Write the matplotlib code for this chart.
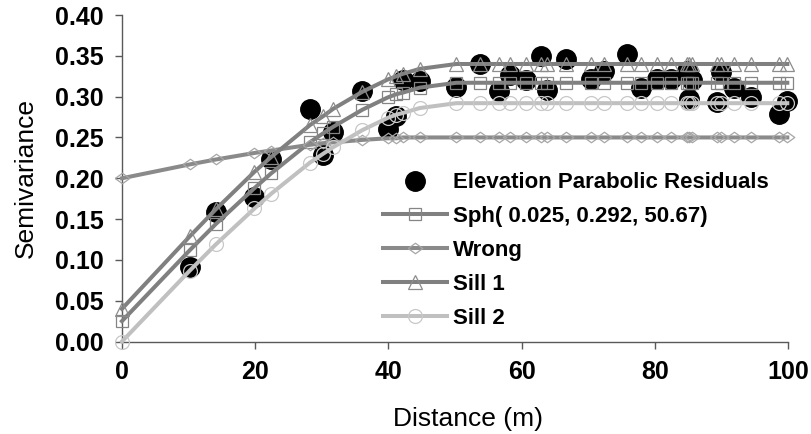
import matplotlib
matplotlib.use("Agg")
from matplotlib import pyplot as plt, ticker

# experimental semivariance (black dots)
dist = [10.2, 14.1, 19.9, 22.4, 28.2, 30.2, 31.7, 36.1, 39.9, 41.2, 42.2, 44.7,
        50.2, 53.7, 56.6, 58.2, 60.6, 62.9, 63.8, 66.7, 70.4, 72.4, 75.9, 77.9,
        80.3, 82.4, 84.9, 85.2, 85.6, 89.4, 89.9, 91.9, 94.4, 98.7, 99.9]
semivar = [0.091, 0.159, 0.177, 0.223, 0.285, 0.229, 0.257, 0.307, 0.260, 0.276, 0.320, 0.319,
           0.312, 0.340, 0.307, 0.326, 0.320, 0.350, 0.308, 0.346, 0.322, 0.332, 0.352, 0.310,
           0.322, 0.322, 0.332, 0.297, 0.320, 0.293, 0.330, 0.310, 0.299, 0.279, 0.295]

# model curves, read at the lag distances (plus the origin)
model_dist = [0.0] + dist
sph = [0.025, 0.112, 0.144, 0.188, 0.206, 0.244, 0.255, 0.263, 0.284, 0.299, 0.303, 0.305, 0.311,
       0.317, 0.317, 0.317, 0.317, 0.317, 0.317, 0.317, 0.317, 0.317, 0.317, 0.317, 0.317,
       0.317, 0.317, 0.317, 0.317, 0.317, 0.317, 0.317, 0.317, 0.317, 0.317, 0.317]
wrong = [0.200, 0.217, 0.223, 0.231, 0.234, 0.241, 0.243, 0.244, 0.247, 0.249, 0.249, 0.250, 0.250,
         0.250, 0.250, 0.250, 0.250, 0.250, 0.250, 0.250, 0.250, 0.250, 0.250, 0.250, 0.250,
         0.250, 0.250, 0.250, 0.250, 0.250, 0.250, 0.250, 0.250, 0.250, 0.250, 0.250]
sill1 = [0.040, 0.129, 0.162, 0.208, 0.226, 0.265, 0.276, 0.285, 0.306, 0.321, 0.325, 0.328, 0.334,
         0.340, 0.340, 0.340, 0.340, 0.340, 0.340, 0.340, 0.340, 0.340, 0.340, 0.340, 0.340,
         0.340, 0.340, 0.340, 0.340, 0.340, 0.340, 0.340, 0.340, 0.340, 0.340, 0.340]
sill2 = [0.000, 0.087, 0.119, 0.163, 0.181, 0.219, 0.230, 0.238, 0.259, 0.274, 0.278, 0.280, 0.286,
         0.292, 0.292, 0.292, 0.292, 0.292, 0.292, 0.292, 0.292, 0.292, 0.292, 0.292, 0.292,
         0.292, 0.292, 0.292, 0.292, 0.292, 0.292, 0.292, 0.292, 0.292, 0.292, 0.292]

x_ticks = [0, 20, 40, 60, 80, 100]
y_ticks = [0.00, 0.05, 0.10, 0.15, 0.20, 0.25, 0.30, 0.35, 0.40]

plt.rcParams["font.family"] = ["Liberation Sans", "DejaVu Sans"]

fig = plt.figure(figsize=(8.12, 4.34), dpi=100)
ax = fig.add_axes([0.1502, 0.2131, 0.8202, 0.7523])

ax.plot(dist, semivar, ls="none", marker="o", ms=14, mfc="black", mec="black",
        label="Elevation Parabolic Residuals", zorder=2, clip_on=False)

diamond = [(-1, 0), (0, 0.72), (1, 0), (0, -0.72), (-1, 0)]
line_kw = dict(lw=2.9, mfc="none", mew=0.9, zorder=3, clip_on=False)
ax.plot(model_dist, sph, color="#808080", marker="s", ms=8.5, mec="#858585",
        label="Sph( 0.025, 0.292, 50.67)", **line_kw)
ax.plot(model_dist, wrong, color="#8a8a8a", marker=diamond, ms=10.5, mec="#a6a6a6",
        label="Wrong", **line_kw)
ax.plot(model_dist, sill1, color="#808080", marker="^", ms=9.5, mec="#8c8c8c",
        label="Sill 1", **line_kw)
ax.plot(model_dist, sill2, color="#c0c0c0", marker="o", ms=10, mec="#c8c8c8",
        label="Sill 2", **line_kw)

ax.set_xlim(0, 100)
ax.set_ylim(0, 0.40)
ax.set_xticks(x_ticks)
ax.set_yticks(y_ticks)
ax.yaxis.set_major_formatter(ticker.FormatStrFormatter("%.2f"))

for side in ("top", "right"):
    ax.spines[side].set_visible(False)
for side in ("left", "bottom"):
    ax.spines[side].set_color("#595959")
    ax.spines[side].set_linewidth(1.0)
ax.tick_params(direction="out", length=5, width=1.0, color="#595959",
               labelsize=18, pad=8)
for lab in ax.get_xticklabels() + ax.get_yticklabels():
    lab.set_fontweight("bold")

ax.set_xlabel("Distance (m)", fontsize=19)
ax.set_ylabel("Semivariance", fontsize=19)
ax.xaxis.set_label_coords(0.52, -0.2)
ax.yaxis.set_label_coords(-0.127, 0.5)

leg = fig.legend(loc="upper left", bbox_to_anchor=(0.4717, 0.603), frameon=False,
                 prop={"size": 16, "weight": "bold"}, borderpad=0, borderaxespad=0,
                 handlelength=2.9, handletextpad=0.25, labelspacing=0.58)

fig.savefig("out.png", dpi=100)
